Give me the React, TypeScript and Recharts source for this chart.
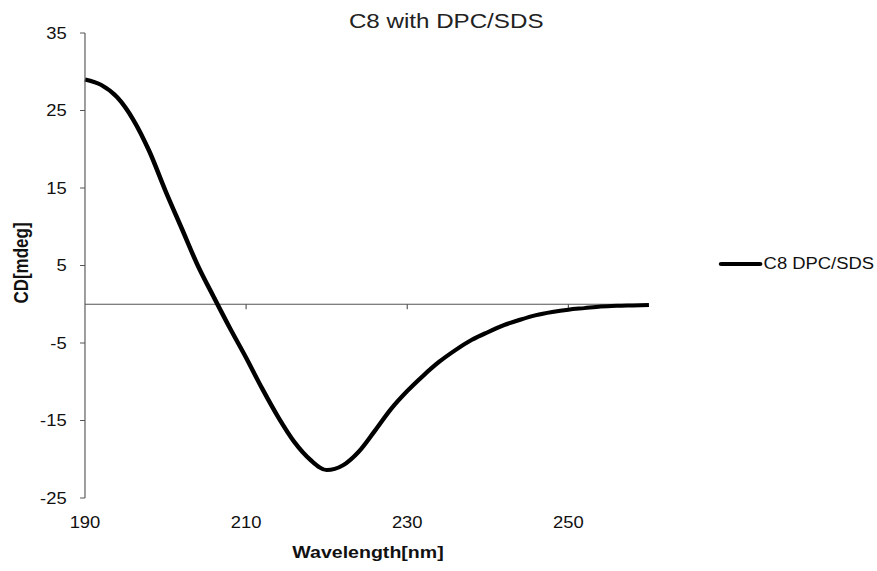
import { LineChart, Line, XAxis, YAxis, ReferenceLine, Legend } from "recharts";

// CD spectrum, sampled every 2 nm
const wavelengths = [
  190, 192, 194, 196, 198, 200, 202, 204, 206, 208, 210, 212, 214, 216, 218, 220, 222, 224,
  226, 228, 230, 232, 234, 236, 238, 240, 242, 244, 246, 248, 250, 252, 254, 256, 258, 260,
];
const cdValues = [
  29.0, 28.3, 26.7, 23.8, 19.7, 14.6, 9.8, 5.0, 0.9, -3.1, -6.9, -10.9, -14.6, -17.8, -20.1,
  -21.4, -20.8, -19.0, -16.3, -13.5, -11.2, -9.2, -7.4, -5.9, -4.6, -3.6, -2.7, -2.0, -1.4,
  -1.0, -0.7, -0.5, -0.3, -0.2, -0.15, -0.1,
];
const xTicks = [190, 210, 230, 250];
const yTicks = [-25, -15, -5, 5, 15, 25, 35];
const seriesName = "C8 DPC/SDS";

const data = wavelengths.map((w, i) => ({ wavelength: w, cd: cdValues[i] }));

// the exported chart is a bit wider than tall, so the whole thing is stretched on x
const SX = 1.15;
const W = 877 / SX;
const H = 571;
const FONT = '"Liberation Sans", Arial, sans-serif';

const XTick = ({ x, y, payload }: any) => (
  <text x={x} y={y + 30} textAnchor="middle" fontSize={16} fill="#111" fontFamily={FONT}>
    {payload.value}
  </text>
);

const LegendItem = () => (
  <div style={{ display: "flex", alignItems: "center", fontFamily: FONT, fontSize: 16, color: "#111" }}>
    <span style={{ display: "inline-block", width: 38, height: 4, background: "#000", borderRadius: 2 }} />
    <span style={{ marginLeft: 1, whiteSpace: "nowrap" }}>{seriesName}</span>
  </div>
);

export default function App() {
  return (
    <div style={{ position: "absolute", left: 0, top: 0, width: 877, height: H, background: "#fff", overflow: "hidden" }}>
      <div style={{ position: "relative", width: W, height: H, transform: `scale(${SX}, 1)`, transformOrigin: "0 0" }}>
        <LineChart width={W} height={H} data={data} margin={{ top: 33, right: W - 564.3, bottom: 43, left: 13.9 }}>
          <XAxis
            type="number"
            dataKey="wavelength"
            domain={[190, 260]}
            ticks={xTicks}
            interval={0}
            axisLine={false}
            tickLine={false}
            tickSize={0}
            tickMargin={0}
            height={30}
            tick={<XTick />}
          />
          <YAxis
            type="number"
            domain={[-25, 35]}
            ticks={yTicks}
            interval={0}
            width={60}
            tickSize={4.3}
            tickMargin={11.6}
            axisLine={{ stroke: "#555", strokeWidth: 1 }}
            tickLine={{ stroke: "#555", strokeWidth: 1 }}
            tick={{ fontSize: 16, fill: "#111", fontFamily: FONT }}
          />
          <ReferenceLine y={0} stroke="#555" strokeWidth={1} />
          {xTicks.slice(1).map((t) => (
            <ReferenceLine
              key={t}
              segment={[
                { x: t, y: 0 },
                { x: t, y: -0.65 },
              ]}
              stroke="#555"
              strokeWidth={1}
            />
          ))}
          <Legend
            layout="vertical"
            align="center"
            verticalAlign="middle"
            content={<LegendItem />}
            wrapperStyle={{ left: 625, top: 255, width: "auto", height: "auto" }}
          />
          <Line
            type="monotone"
            dataKey="cd"
            name={seriesName}
            stroke="#000"
            strokeWidth={4}
            dot={false}
            activeDot={false}
            isAnimationActive={false}
          />
        </LineChart>

        <div style={{ position: "absolute", left: 188, width: 400, top: 9, textAlign: "center", fontFamily: FONT, fontSize: 21, color: "#222" }}>
          C8 with DPC/SDS
        </div>
        <div style={{ position: "absolute", left: 220, width: 200, top: 543, textAlign: "center", fontFamily: FONT, fontSize: 17, fontWeight: "bold", color: "#111" }}>
          Wavelength[nm]
        </div>
        <div
          style={{
            position: "absolute",
            left: 19 - 60,
            width: 120,
            top: 264 - 11,
            textAlign: "center",
            fontFamily: FONT,
            fontSize: 17,
            fontWeight: "bold",
            color: "#111",
            transform: "rotate(-90deg)",
          }}
        >
          CD[mdeg]
        </div>
      </div>
    </div>
  );
}
